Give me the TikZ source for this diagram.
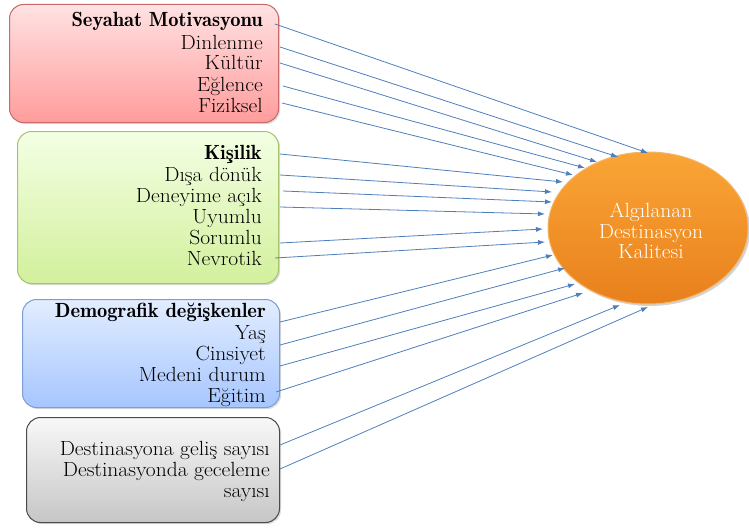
\documentclass[tikz,border=0pt]{standalone}
\usepackage{fontspec}
\newfontfamily\demifont{lmromandemi10-regular}[Extension=.otf]
\usetikzlibrary{arrows.meta,shadows,shapes.geometric}
\newcommand\widetxt[1]{\scalebox{1.05}[1]{#1}}
\definecolor{redtop}{HTML}{FFE2E2}
\definecolor{redbot}{HTML}{FF9C9C}
\definecolor{redline}{HTML}{C86A6A}
\definecolor{greentop}{HTML}{F4FFE4}
\definecolor{greenbot}{HTML}{D2F09C}
\definecolor{greenline}{HTML}{A6C46E}
\definecolor{bluetop}{HTML}{E2EDFF}
\definecolor{bluebot}{HTML}{A6C6FF}
\definecolor{blueline}{HTML}{7C9DD4}
\definecolor{graytop}{HTML}{F8F8F8}
\definecolor{graybot}{HTML}{C6C6C6}
\definecolor{grayline}{HTML}{4A4A4A}
\definecolor{orangetop}{HTML}{FAA536}
\definecolor{orangebot}{HTML}{E8801C}
\definecolor{orangeline}{HTML}{F5B566}
\definecolor{arrcol}{HTML}{4F7EBD}
\tikzset{
  mbox/.style={rectangle, rounded corners=14pt, line width=1pt, anchor=north west,
    drop shadow={shadow xshift=1.5pt, shadow yshift=-1.5pt, opacity=0.3}},
  lbl/.style={anchor=base east, inner sep=0pt, font=\fontsize{20.5}{21}\selectfont},
  hd/.style={lbl, font=\demifont\fontsize{20.5}{21}\selectfont},
  arr/.style={draw=arrcol, line width=0.8pt, -{Latex[length=7pt,width=5pt]}},
}
\begin{document}
\begin{tikzpicture}[x=1pt,y=-1pt]
\useasboundingbox (0,0) rectangle (749,527);
% boxes
\node[mbox, draw=redline, top color=redtop, bottom color=redbot, minimum width=269pt, minimum height=118pt] (rbox) at (9,4) {};
\node[mbox, draw=greenline, top color=greentop, bottom color=greenbot, minimum width=261pt, minimum height=152pt] (gbox) at (17,131) {};
\node[mbox, draw=blueline, top color=bluetop, bottom color=bluebot, minimum width=257pt, minimum height=108pt] (bbox) at (22,299) {};
\node[mbox, draw=grayline, top color=graytop, bottom color=graybot, minimum width=253pt, minimum height=105pt] (ybox) at (26,417) {};
% ellipse
\node[ellipse, draw=orangeline, line width=1pt, top color=orangetop, bottom color=orangebot,
  minimum width=200pt, minimum height=152pt,
  drop shadow={shadow xshift=2pt, shadow yshift=-2pt, opacity=0.35}] (ell) at (648,228) {};
\node[align=center, text=white, inner sep=0pt, font=\fontsize{20.5}{20.5}\selectfont] (etxt) at (651,231) {\widetxt{Algılanan}\\\widetxt{Destinasyon}\\\widetxt{Kalitesi}};
% red texts
\node[hd] (r1) at (263,27) {Seyahat Motivasyonu};
\node[lbl] (r2) at (263,49) {\widetxt{Dinlenme}};
\node[lbl] (r3) at (263,70) {\widetxt{Kültür}};
\node[lbl] (r4) at (263,91) {\widetxt{Eğlence}};
\node[lbl] (r5) at (263,112) {\widetxt{Fiziksel}};
% green texts
\node[hd] (g1) at (262,159) {Kişilik};
\node[lbl] (g2) at (262,181) {\widetxt{Dışa dönük}};
\node[lbl] (g3) at (262,202) {\widetxt{Deneyime açık}};
\node[lbl] (g4) at (262,223) {\widetxt{Uyumlu}};
\node[lbl] (g5) at (262,244) {\widetxt{Sorumlu}};
\node[lbl] (g6) at (262,265) {\widetxt{Nevrotik}};
% blue texts
\node[hd] (b1) at (266,317) {Demografik değişkenler};
\node[lbl] (b2) at (266,339) {\widetxt{Yaş}};
\node[lbl] (b3) at (266,360) {\widetxt{Cinsiyet}};
\node[lbl] (b4) at (266,381) {\widetxt{Medeni durum}};
\node[lbl] (b5) at (266,402) {\widetxt{Eğitim}};
% gray texts
\node[lbl] (y1) at (270,455) {\widetxt{Destinasyona geliş sayısı}};
\node[lbl] (y2) at (270,476) {\widetxt{Destinasyonda geceleme}};
\node[lbl] (y3) at (270,497) {\widetxt{sayısı}};
% start points
\coordinate (s1) at (275,24);
\coordinate (s2) at (280,47);
\coordinate (s3) at (280,63);
\coordinate (s4) at (283,86);
\coordinate (s5) at (282,103);
\coordinate (s6) at (280,154);
\coordinate (s7) at (280,175);
\coordinate (s8) at (283,191);
\coordinate (s9) at (280,207);
\coordinate (s10) at (280,243);
\coordinate (s11) at (275,258);
\coordinate (s12) at (280,322);
\coordinate (s13) at (280,345);
\coordinate (s14) at (280,366);
\coordinate (s15) at (276,392);
\coordinate (s16) at (280,445);
\coordinate (s17) at (280,469);
% end points on ellipse
\coordinate (e1) at (648,153);
\coordinate (e2) at (618,157);
\coordinate (e3) at (597,162);
\coordinate (e4) at (585,168);
\coordinate (e5) at (573,175);
\coordinate (e6) at (563,182);
\coordinate (e7) at (552,192);
\coordinate (e8) at (552,202);
\coordinate (e9) at (545,214);
\coordinate (e10) at (543,229);
\coordinate (e11) at (545,242);
\coordinate (e12) at (553,255);
\coordinate (e13) at (565,268);
\coordinate (e14) at (575,284);
\coordinate (e15) at (583,293);
\coordinate (e16) at (620,305);
\coordinate (e17) at (648,307);
\foreach \i in {1,...,17} {\draw[arr] (s\i) -- (e\i);}
\end{tikzpicture}
\end{document}
